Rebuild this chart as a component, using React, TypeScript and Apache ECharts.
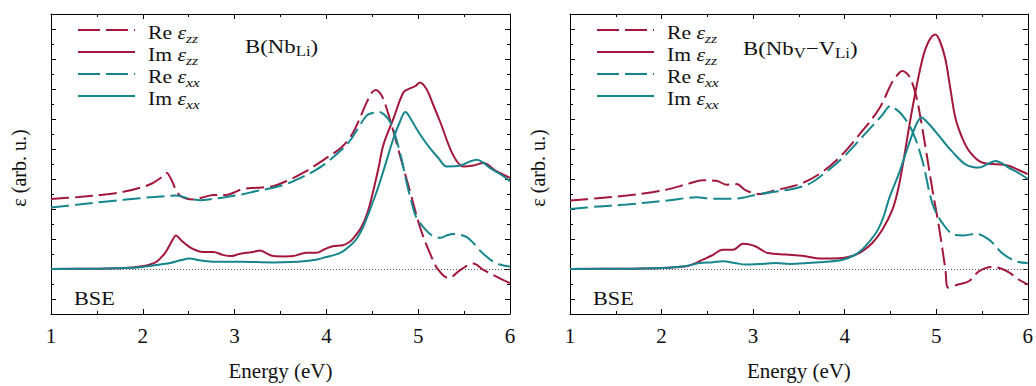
import React, { useEffect, useRef } from "react";
import * as echarts from "echarts";

// ---------- data (energy in eV, epsilon in arbitrary units) ----------
const X_TICKS = [1, 2, 3, 4, 5, 6];
const Y_MAJOR_TICKS = [-1, 0, 1, 2, 3, 4, 5, 6, 7, 8];
const Y_MINOR_TICKS = [-0.5, 0.5, 1.5, 2.5, 3.5, 4.5, 5.5, 6.5, 7.5];

const LEFT_RE_ZZ = [[1.0,2.33],[1.3,2.4],[1.61,2.49],[1.8,2.58],[1.97,2.71],[2.1,2.85],[2.2,3.05],[2.26,3.2],[2.31,2.98],[2.36,2.65],[2.41,2.43],[2.48,2.34],[2.55,2.32],[2.65,2.38],[2.77,2.47],[2.91,2.47],[3.0,2.56],[3.09,2.67],[3.24,2.71],[3.42,2.76],[3.6,2.98],[3.78,3.26],[3.97,3.64],[4.15,4.02],[4.25,4.35],[4.33,4.79],[4.44,5.56],[4.5,5.9],[4.54,5.97],[4.58,5.88],[4.62,5.67],[4.69,5.01],[4.8,3.8],[4.91,2.6],[5.02,1.39],[5.13,0.51],[5.22,-0.03],[5.33,-0.3],[5.46,-0.03],[5.6,0.18],[5.71,-0.03],[5.89,-0.31],[6.0,-0.47]];
const LEFT_IM_ZZ = [[1.0,0.0],[1.5,0.01],[1.8,0.03],[1.97,0.08],[2.08,0.15],[2.15,0.24],[2.22,0.45],[2.26,0.62],[2.33,1.0],[2.36,1.12],[2.42,0.95],[2.51,0.73],[2.6,0.6],[2.66,0.57],[2.77,0.57],[2.87,0.47],[2.96,0.43],[3.05,0.5],[3.13,0.54],[3.2,0.57],[3.28,0.62],[3.35,0.52],[3.42,0.43],[3.55,0.42],[3.64,0.43],[3.72,0.5],[3.78,0.54],[3.89,0.54],[3.98,0.66],[4.07,0.76],[4.18,0.79],[4.25,0.9],[4.29,1.01],[4.38,1.39],[4.45,1.9],[4.51,2.6],[4.57,3.4],[4.62,4.13],[4.73,5.01],[4.84,5.89],[4.91,6.02],[4.97,6.1],[5.02,6.22],[5.09,6.0],[5.16,5.5],[5.24,4.9],[5.38,3.8],[5.49,3.42],[5.6,3.45],[5.71,3.53],[5.85,3.26],[6.0,3.04]];
const LEFT_RE_XX = [[1.0,2.05],[1.3,2.15],[1.61,2.25],[1.97,2.36],[2.2,2.42],[2.37,2.45],[2.5,2.35],[2.63,2.29],[2.75,2.33],[2.91,2.4],[3.1,2.5],[3.24,2.6],[3.42,2.71],[3.58,2.85],[3.72,3.04],[3.85,3.24],[3.97,3.47],[4.15,3.93],[4.25,4.25],[4.33,4.62],[4.44,5.12],[4.5,5.2],[4.56,5.25],[4.62,5.17],[4.67,5.01],[4.72,4.75],[4.76,4.35],[4.82,3.65],[4.87,2.93],[4.93,2.2],[4.98,1.72],[5.09,1.28],[5.16,1.1],[5.24,1.04],[5.31,1.12],[5.38,1.17],[5.46,1.14],[5.53,1.06],[5.6,0.87],[5.67,0.62],[5.75,0.4],[5.82,0.24],[5.9,0.14],[6.0,0.08]];
const LEFT_IM_XX = [[1.0,0.0],[1.5,0.01],[1.8,0.03],[2.0,0.07],[2.19,0.15],[2.3,0.2],[2.41,0.29],[2.51,0.35],[2.6,0.3],[2.7,0.26],[2.8,0.24],[3.06,0.24],[3.42,0.22],[3.6,0.23],[3.78,0.27],[3.9,0.32],[4.0,0.4],[4.1,0.48],[4.18,0.59],[4.26,0.78],[4.33,1.01],[4.4,1.4],[4.47,1.94],[4.55,2.6],[4.62,3.26],[4.73,4.35],[4.8,4.9],[4.86,5.23],[4.92,5.0],[4.98,4.68],[5.05,4.35],[5.13,4.02],[5.22,3.7],[5.31,3.42],[5.46,3.45],[5.56,3.58],[5.64,3.64],[5.72,3.52],[5.78,3.37],[5.9,3.15],[6.0,2.93]];

const RIGHT_RE_ZZ = [[1.0,2.28],[1.3,2.36],[1.62,2.45],[1.9,2.56],[2.09,2.67],[2.3,2.85],[2.45,2.96],[2.6,2.94],[2.71,2.81],[2.82,2.83],[2.92,2.62],[3.07,2.5],[3.25,2.63],[3.51,2.83],[3.72,3.16],[3.94,3.71],[4.16,4.48],[4.38,5.36],[4.52,6.23],[4.6,6.55],[4.63,6.6],[4.68,6.52],[4.72,6.34],[4.77,5.9],[4.81,5.36],[4.89,3.93],[4.96,2.62],[5.03,1.41],[5.1,0.0],[5.13,-0.62],[5.2,-0.55],[5.25,-0.51],[5.36,-0.4],[5.47,-0.07],[5.61,0.07],[5.72,0.0],[5.8,-0.12],[5.9,-0.35],[6.0,-0.51]];
const RIGHT_IM_ZZ = [[1.0,0.0],[1.6,0.01],[2.0,0.03],[2.27,0.09],[2.36,0.18],[2.45,0.31],[2.55,0.45],[2.67,0.64],[2.78,0.64],[2.89,0.84],[2.96,0.82],[3.03,0.75],[3.1,0.62],[3.16,0.53],[3.36,0.48],[3.54,0.44],[3.72,0.35],[3.98,0.37],[4.1,0.45],[4.19,0.59],[4.3,0.86],[4.41,1.3],[4.52,1.96],[4.58,2.6],[4.63,3.38],[4.74,5.36],[4.85,7.0],[4.92,7.6],[4.99,7.82],[5.04,7.6],[5.1,7.0],[5.15,6.1],[5.21,5.03],[5.28,4.4],[5.36,3.93],[5.5,3.55],[5.68,3.49],[5.79,3.44],[5.9,3.3],[6.0,3.16]];
const RIGHT_RE_XX = [[1.0,2.0],[1.3,2.08],[1.62,2.15],[2.09,2.29],[2.38,2.39],[2.56,2.34],[2.78,2.34],[3.07,2.5],[3.43,2.67],[3.6,2.82],[3.72,3.05],[3.98,3.71],[4.23,4.53],[4.41,5.13],[4.47,5.38],[4.5,5.44],[4.55,5.35],[4.63,5.13],[4.74,4.59],[4.85,3.6],[4.96,2.17],[5.07,1.52],[5.21,1.13],[5.3,1.12],[5.43,1.17],[5.58,0.97],[5.72,0.53],[5.87,0.26],[6.0,0.2]];
const RIGHT_IM_XX = [[1.0,0.0],[1.6,0.01],[2.0,0.03],[2.25,0.09],[2.42,0.2],[2.55,0.22],[2.67,0.26],[2.8,0.2],[2.92,0.15],[3.1,0.17],[3.25,0.2],[3.4,0.17],[3.61,0.2],[3.8,0.24],[3.98,0.31],[4.1,0.45],[4.19,0.64],[4.34,1.19],[4.42,1.7],[4.49,2.39],[4.59,3.16],[4.7,4.15],[4.78,4.8],[4.84,5.05],[4.9,4.9],[4.99,4.59],[5.08,4.25],[5.17,3.93],[5.32,3.49],[5.47,3.38],[5.56,3.5],[5.65,3.6],[5.72,3.52],[5.79,3.38],[5.9,3.2],[6.0,3.0]];

const LEGEND_LABELS = ["Re ", "Im ", "Re ", "Im "];
const LEGEND_SUBS = ["zz", "zz", "xx", "xx"];
const PANEL_TITLES = ["B(Nb{s|Li})", "B(Nb{s|V}\u2212V{s|Li})"];

// ---------- style ----------
const RED = "#a3173d";
const TEAL = "#15868e";
const FONT = "Liberation Serif";
const DASH = [18, 6];
const SX = 1.2;

const GRIDS = [
  { left: 51, top: 14, width: 459, height: 304 },
  { left: 570, top: 14, width: 459, height: 304 },
];

export default function App() {
  const ref = useRef<HTMLDivElement>(null);

  useEffect(() => {
    document.body.style.margin = "0";
    const chart = echarts.init(ref.current!, null, { renderer: "svg" });

    const xAxes: any[] = [];
    const yAxes: any[] = [];
    GRIDS.forEach((_, g) => {
      const baseX = {
        type: "value", gridIndex: g, min: 1, max: 6, interval: 1,
        axisLine: { show: true, onZero: false, lineStyle: { color: "#000", width: 1 } },
        axisTick: { show: true, inside: true, length: 5, lineStyle: { color: "#000" } },
        minorTick: { show: true, splitNumber: 2, length: 3, lineStyle: { color: "#000" } },
        splitLine: { show: false },
      };
      xAxes.push({
        ...baseX, position: "bottom",
        axisLabel: { show: true, color: "#111", fontFamily: FONT, fontSize: 21, margin: 11,
          customValues: X_TICKS, formatter: (v: number) => String(v) },
        name: "Energy (eV)", nameLocation: "middle", nameGap: 46,
        nameTextStyle: { color: "#111", fontFamily: FONT, fontSize: 21 },
      });
      xAxes.push({ ...baseX, position: "top", axisLabel: { show: false } });

      const baseY = {
        type: "value", gridIndex: g, min: -1.5, max: 8.5,
        splitLine: { show: false }, axisLabel: { show: false },
      };
      ["left", "right"].forEach((pos) => {
        yAxes.push({
          ...baseY, position: pos,
          axisLine: { show: true, onZero: false, lineStyle: { color: "#000", width: 1 } },
          axisTick: { show: true, inside: true, length: 5, customValues: Y_MAJOR_TICKS, lineStyle: { color: "#000" } },
        });
        yAxes.push({
          ...baseY, position: pos,
          axisLine: { show: false, onZero: false },
          axisTick: { show: true, inside: true, length: 3, customValues: Y_MINOR_TICKS, lineStyle: { color: "#000" } },
        });
      });
    });

    const panels = [
      [LEFT_RE_ZZ, LEFT_IM_ZZ, LEFT_RE_XX, LEFT_IM_XX],
      [RIGHT_RE_ZZ, RIGHT_IM_ZZ, RIGHT_RE_XX, RIGHT_IM_XX],
    ];
    const colors = [RED, RED, TEAL, TEAL];
    const dashed = [true, false, true, false];
    const series: any[] = [];
    panels.forEach((curves, g) => {
      curves.forEach((data, i) => {
        series.push({
          type: "line",
          xAxisIndex: 2 * g,
          yAxisIndex: 4 * g,
          data,
          smooth: 0.35,
          showSymbol: false,
          symbol: "none",
          z: 3 + i,
          lineStyle: { color: colors[i], width: 2, type: dashed[i] ? DASH : "solid" },
          markLine: i === 3 ? {
            silent: true, symbol: ["none", "none"], label: { show: false },
            lineStyle: { color: "#555", width: 1, type: [1, 2] },
            data: [{ yAxis: 0 }],
            z: 1,
          } : undefined,
        });
      });
    });

    const rich = {
      i: { fontFamily: FONT, fontSize: 18, fontStyle: "italic", fill: "#111" },
      sub: { fontFamily: FONT, fontSize: 13, fontStyle: "italic", fill: "#111", padding: [10, 0, 0, 0] },
      s: { fontFamily: FONT, fontSize: 14, fill: "#111", padding: [9, 0, 0, 0] },
    };

    const graphic: any[] = [];
    const legendRows = [30, 52, 74, 96];
    GRIDS.forEach((grid, g) => {
      const lx0 = grid.left + 27;
      const lx1 = lx0 + 57;
      legendRows.forEach((y, i) => {
        graphic.push({
          type: "line",
          shape: { x1: lx0, y1: y, x2: lx1, y2: y },
          style: { stroke: colors[i], lineWidth: 2, lineDash: dashed[i] ? [22, 6] : null },
        });
        graphic.push({
          type: "text", x: lx1 + 13, y: y + 3, scaleX: SX,
          style: {
            text: LEGEND_LABELS[i] + "{i|\u03b5}{sub|" + LEGEND_SUBS[i] + "}",
            fontFamily: FONT, fontSize: 18, fill: "#111",
            align: "left", verticalAlign: "middle", rich,
          },
        });
      });
      graphic.push({
        type: "text", x: g === 0 ? 245 : 743, y: g === 0 ? 47 : 49, scaleX: SX,
        style: {
          text: PANEL_TITLES[g], fontFamily: FONT, fontSize: 19, fill: "#111",
          align: "left", verticalAlign: "middle", rich,
        },
      });
      graphic.push({
        type: "text", x: grid.left + 23, y: 299, scaleX: SX,
        style: { text: "BSE", fontFamily: FONT, fontSize: 18.5, fill: "#111", align: "left", verticalAlign: "middle" },
      });
      graphic.push({
        type: "text", x: grid.left - 32, y: 168, rotation: Math.PI / 2,
        style: { text: "\u03b5 (arb. u.)", fontFamily: FONT, fontSize: 20, fill: "#111", align: "center", verticalAlign: "middle" },
      });
    });

    chart.setOption({
      animation: false,
      backgroundColor: "#fff",
      grid: GRIDS,
      xAxis: xAxes,
      yAxis: yAxes,
      series,
      graphic,
    });

    return () => chart.dispose();
  }, []);

  return <div ref={ref} style={{ width: 1036, height: 386 }} />;
}
